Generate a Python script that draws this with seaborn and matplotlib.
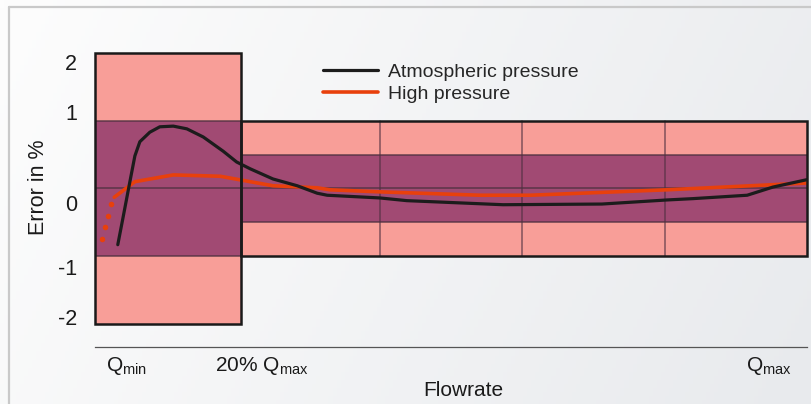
import numpy as np
import pandas as pd
import matplotlib
matplotlib.use('Agg')
import matplotlib.pyplot as plt
from matplotlib.patches import Rectangle
from matplotlib.colors import LinearSegmentedColormap
import seaborn as sns

# Error curves: flowrate (% of Qmax) and measurement error (%)
atm_flow = [3.2, 3.9, 4.9, 5.6, 6.3, 7.7, 9.1, 11.0, 12.9, 15.2, 18.0, 19.9, 21.8,
            25.0, 28.4, 31.2, 32.6, 40.0, 43.8, 57.3, 71.2, 80.3, 84.0, 91.6, 95.2, 100.0]
atm_error = [-0.83, -0.45, 0.10, 0.48, 0.69, 0.83, 0.91, 0.92, 0.88, 0.76, 0.55, 0.39, 0.29,
             0.14, 0.04, -0.07, -0.10, -0.14, -0.18, -0.24, -0.23, -0.17, -0.15, -0.10, 0.02, 0.13]

hp_flow = [2.7, 5.6, 11.0, 17.6, 21.8, 25.0, 31.2, 33.0, 40.0, 54.1, 61.1, 80.3, 100.0]
hp_error = [-0.13, 0.10, 0.20, 0.18, 0.10, 0.04, 0.01, -0.02, -0.05, -0.10, -0.10, -0.02, 0.08]

# extrapolated (dotted) start of the high pressure curve
hp_low_flow = [1.0, 1.4, 1.8, 2.25]
hp_low_error = [-0.75, -0.57, -0.41, -0.23]

# Tolerance zones: flow range, outer limit, inner limit (in %)
zone_start = [0, 20.5]
zone_end = [20.5, 100]
zone_outer = [2.0, 1.0]
zone_inner = [1.0, 0.5]
grid_flow = [40, 60, 80]

# Axis labels as they sit in the picture
ytick_pos = [1.87, 1.13, -0.21, -1.16, -1.90]
ytick_labels = ['2', '1', '0', '-1', '-2']
xtick_pos = [4.5, 23.4, 94.7]
xtick_labels = [r'Q$_{\mathregular{min}}$', r'20% Q$_{\mathregular{max}}$',
                r'Q$_{\mathregular{max}}$']
xmark_pos = [0, 20.5, 100]

sns.set_theme(style='white')
plt.rcParams['font.family'] = ['Liberation Sans', 'DejaVu Sans']
plt.rcParams['mathtext.fontset'] = 'custom'
plt.rcParams['mathtext.rm'] = 'Liberation Sans'

PINK = '#f89e98'
PLUM = '#a14a73'
EDGE = '#4e3040'
RED = '#e8400c'

fig = plt.figure(figsize=(8.11, 4.04), dpi=100)

# soft grey gradient background with the thin frame
bg = fig.add_axes([0, 0, 1, 1], zorder=-10)
xx, yy = np.meshgrid(np.linspace(0, 1, 200), np.linspace(0, 1, 100))
grad = 0.8 * xx + 0.2 * yy
cmap = LinearSegmentedColormap.from_list('bg', ['#fdfdfd', '#e8eaed'])
bg.imshow(grad, extent=(0, 811, 404, 0), cmap=cmap, aspect='auto')
bg.plot([9, 9], [7, 404], color='#c9c9c9', lw=1.6)
bg.plot([9, 811], [7, 7], color='#c9c9c9', lw=1.6)
bg.set_xlim(0, 811)
bg.set_ylim(404, 0)
bg.axis('off')

ax = fig.add_axes([95 / 811, 57 / 404, 712 / 811, 307.6 / 404])
ax.set_facecolor('none')

# tolerance zones
for x0, x1, outer, inner in zip(zone_start, zone_end, zone_outer, zone_inner):
    w = x1 - x0
    ax.add_patch(Rectangle((x0, -outer), w, 2 * outer, facecolor=PINK,
                           edgecolor='none', zorder=1))
    ax.add_patch(Rectangle((x0, -inner), w, 2 * inner, facecolor=PLUM,
                           edgecolor='none', zorder=2))
    for yv in (inner, 0, -inner):
        ax.plot([x0, x1], [yv, yv], color=EDGE, lw=1.1, alpha=0.85, zorder=3)

for gx in grid_flow:
    ax.plot([gx, gx], [-zone_outer[1], zone_outer[1]], color=EDGE, lw=1.1,
            alpha=0.7, zorder=3)

sns.lineplot(x=atm_flow, y=atm_error, sort=False, color='#1c1c1c', lw=2.3,
             label='Atmospheric pressure', ax=ax, zorder=5)
sns.lineplot(x=hp_flow, y=hp_error, sort=False, color=RED, lw=2.6,
             label='High pressure', ax=ax, zorder=4)
sns.scatterplot(x=hp_low_flow, y=hp_low_error, color=RED, s=16, linewidth=0,
                ax=ax, zorder=4, legend=False)

# zone outlines on top
for x0, x1, outer in zip(zone_start, zone_end, zone_outer):
    ax.add_patch(Rectangle((x0, -outer), x1 - x0, 2 * outer, facecolor='none',
                           edgecolor='#1a1a1a', lw=1.8, zorder=6, clip_on=False))

ax.set_xlim(0, 100)
ax.set_ylim(-2.34, 2.2)

for side in ('left', 'top', 'right'):
    ax.spines[side].set_visible(False)
ax.spines['bottom'].set_color('#555555')
ax.spines['bottom'].set_linewidth(0.9)

ax.set_yticks(ytick_pos, ytick_labels)
ax.tick_params(axis='y', length=0, pad=13, labelsize=15.5, labelcolor='#1a1a1a')
ax.set_xticks(xmark_pos, [''] * len(xmark_pos))
ax.tick_params(axis='x', which='major', direction='in', length=3, width=0.8,
               color='#555555')
ax.set_xticks(xtick_pos, xtick_labels, minor=True)
ax.tick_params(axis='x', which='minor', length=0, pad=6, labelsize=15,
               labelcolor='#1a1a1a')

ax.set_ylabel('Error in %', fontsize=15.5, color='#1a1a1a')
ax.yaxis.set_label_coords(-0.064, 0.52)
ax.set_xlabel('Flowrate', fontsize=15, color='#1a1a1a')
ax.xaxis.set_label_coords(0.517, -0.112)

ax.legend(loc='upper left', bbox_to_anchor=(323 / 811, 1 - 63 / 404),
          bbox_transform=fig.transFigure, frameon=False, fontsize=14,
          handlelength=2.85, handletextpad=0.5, labelspacing=0.25, borderpad=0,
          borderaxespad=0)

fig.savefig('out.png', dpi=100)
